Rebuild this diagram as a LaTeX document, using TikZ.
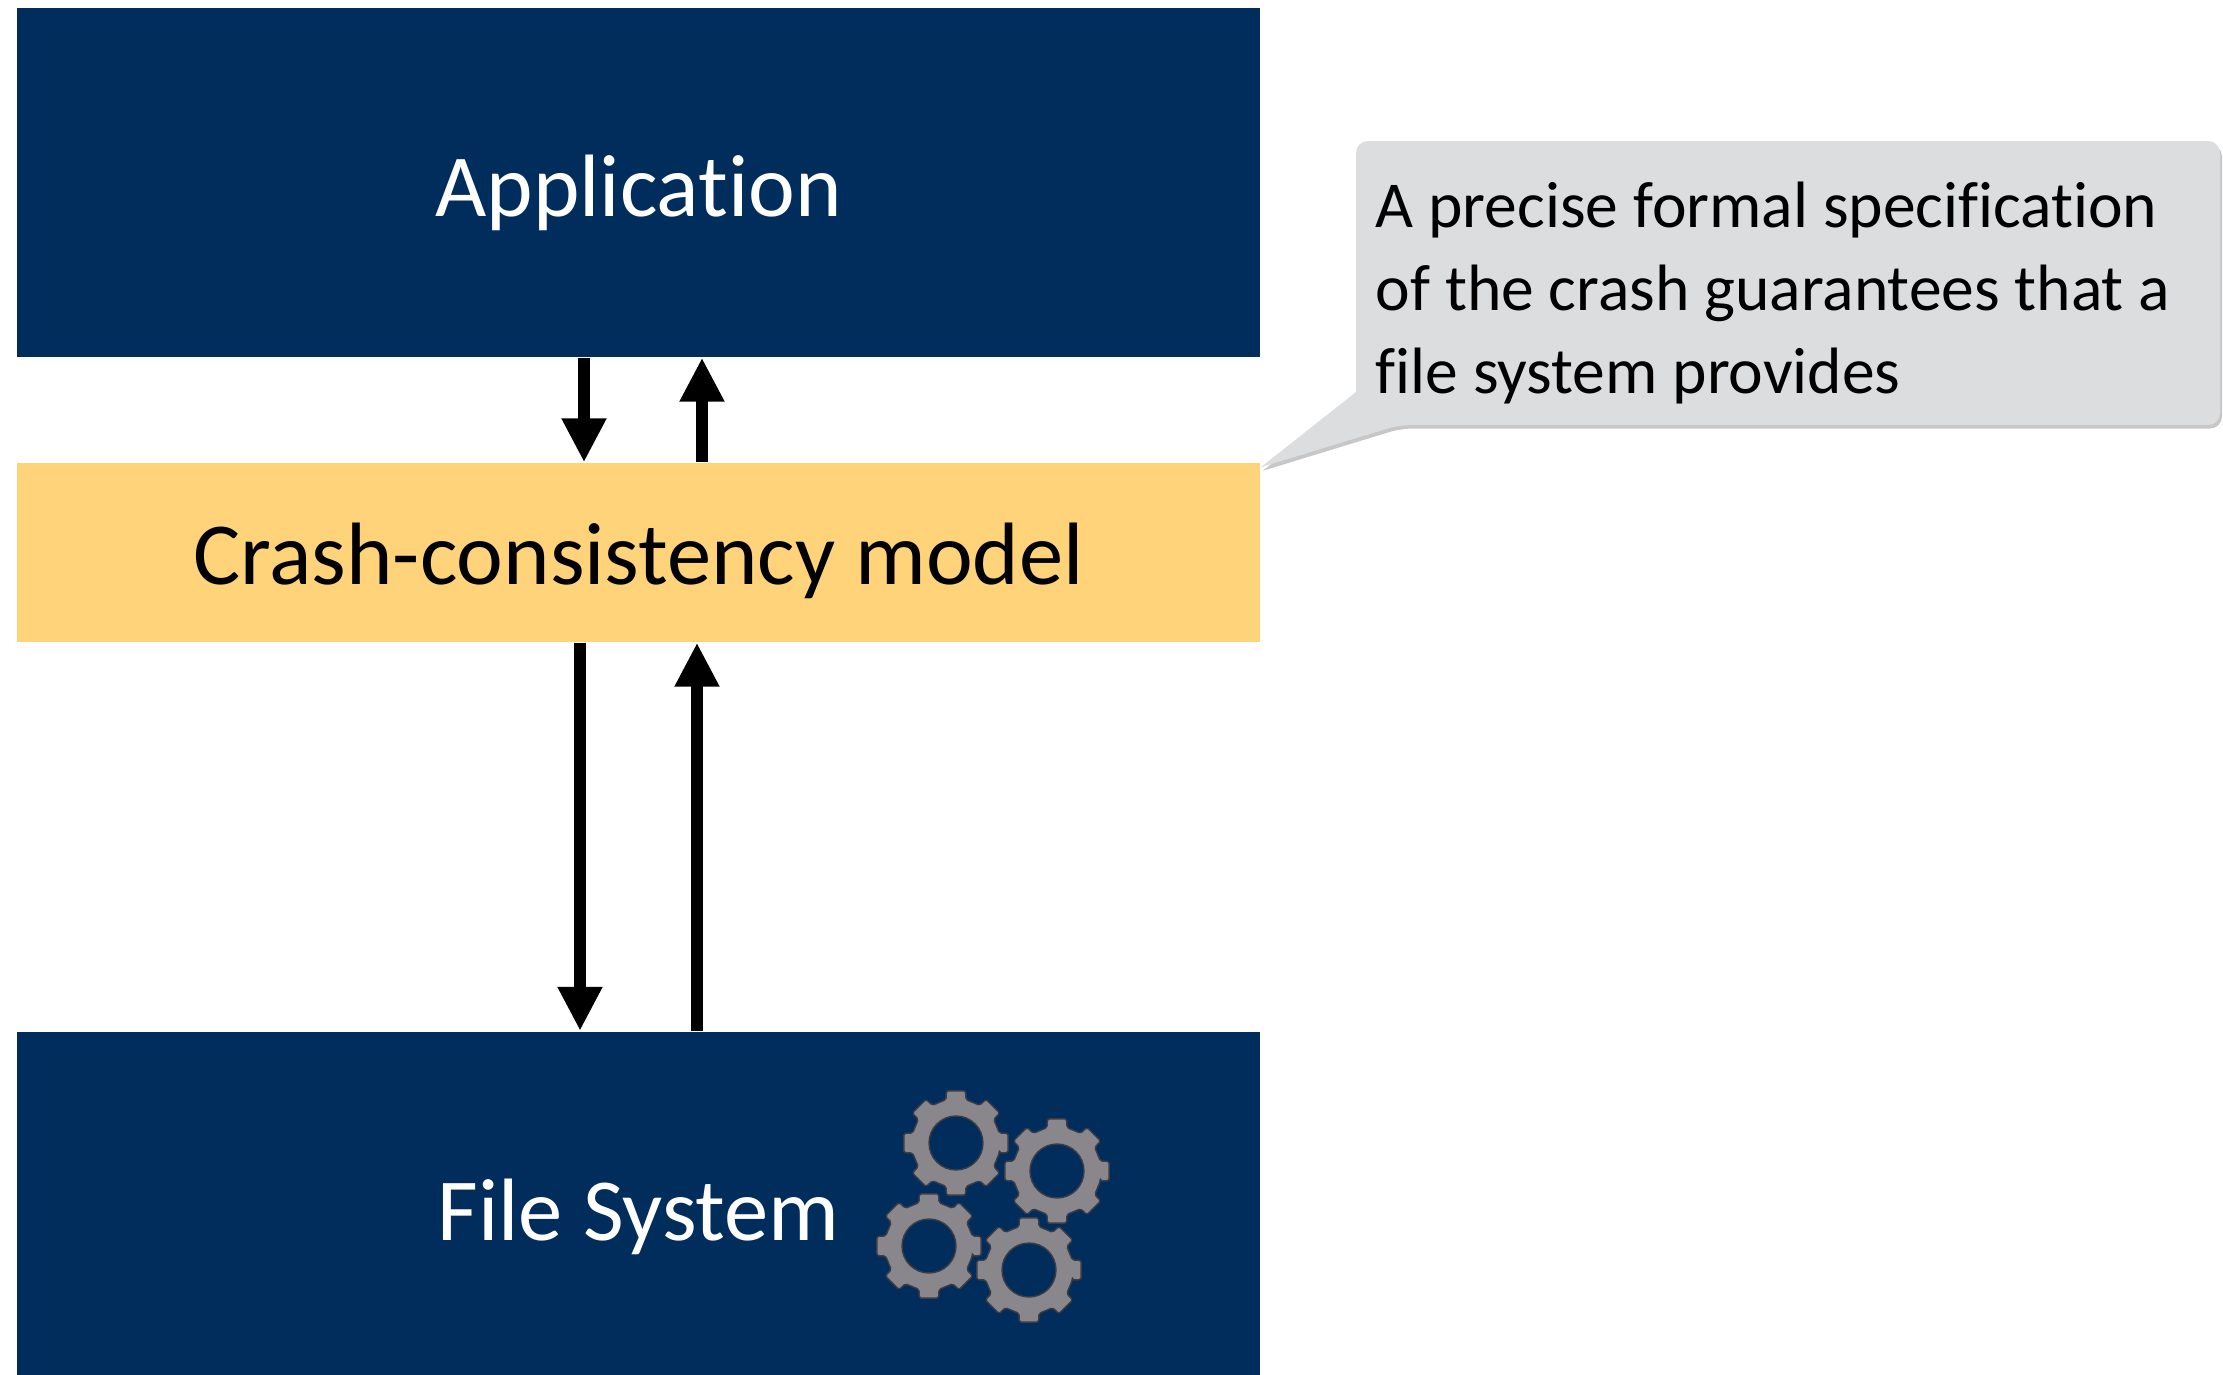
\documentclass[tikz,border=0pt]{standalone}
\usepackage{fontspec}
\setmainfont{Carlito}[Ligatures=NoCommon]
\usepackage{tikz}
\usetikzlibrary{shadows, arrows.meta}

\definecolor{navyblue}{HTML}{002D5C}
\definecolor{modelyellow}{HTML}{FFD379}
\definecolor{notegray}{HTML}{DCDDDF}
\definecolor{geargray}{HTML}{8A878C}
\definecolor{gearedge}{HTML}{3C3C44}

\newcommand{\gearicon}[2]{
	\draw[gear, shift={(#1,#2)}] (-13:0.445)
		\foreach \a in {0,45,...,315} {
			-- (\a-13:0.445) -- (\a-10.5:0.53) -- (\a+10.5:0.53) -- (\a+13:0.445)
		} -- cycle
		(0,0) circle (0.27);
}

\begin{document}
\begin{tikzpicture}
		\tikzstyle{layer}=[rectangle, inner sep=0pt, minimum width=12.43cm, text depth=0pt]
		\tikzstyle{bluelayer}=[layer, fill=navyblue, text=white, font=\fontsize{25.2pt}{30pt}\selectfont]
		\tikzstyle{flow}=[-{Triangle[width=0.42cm, length=0.44cm]}, line width=0.115cm, black]
		\tikzstyle{gear}=[fill=geargray, draw=gearedge, line width=0.4pt, even odd rule, rounded corners=0.5pt]

		\useasboundingbox (0,0) rectangle (22.23,-13.74);

		\node[bluelayer, minimum height=3.49cm, text height=0.67cm] (app) at (6.385,-1.825) {Application};

		\node[layer, fill=modelyellow, minimum height=1.79cm, text height=0.63cm, below of=app, yshift=-2.7cm, font=\fontsize{25.2pt}{30pt}\selectfont] (model) {Crash-consistency model};

		\node[bluelayer, minimum height=3.44cm, text height=0.74cm, below of=model, yshift=-5.51cm] (fs) {File System};

		\draw[flow] ([xshift=-0.545cm]app.south) -- ([xshift=-0.545cm]model.north);
		\draw[flow] ([xshift=0.635cm]model.north) -- ([xshift=0.635cm]app.south);
		\draw[flow] ([xshift=-0.585cm]model.south) -- ([xshift=-0.585cm]fs.north);
		\draw[flow] ([xshift=0.585cm]fs.north) -- ([xshift=0.585cm]model.south);

		\gearicon{9.56}{-11.43}
		\gearicon{10.57}{-11.71}
		\gearicon{9.29}{-12.46}
		\gearicon{10.29}{-12.70}

		\coordinate (tip) at ([yshift=-0.05cm]model.north east);
		\fill[notegray, rounded corners=0.12cm, drop shadow={shadow xshift=0.02cm, shadow yshift=-0.035cm, fill=black, opacity=0.22}]
			(13.56,-1.41) -- (22.20,-1.41) -- (22.20,-4.25) -- (13.99,-4.25) [sharp corners] -- (tip) -- (13.56,-3.92) [rounded corners=0.12cm] -- cycle;

		\node[anchor=north west, inner sep=0pt, align=left, font=\fontsize{18.65pt}{23.6pt}\selectfont] (note) at (13.75,-1.81) {A precise formal specification\\of the crash guarantees that a\\file system provides};

	\end{tikzpicture}
\end{document}
